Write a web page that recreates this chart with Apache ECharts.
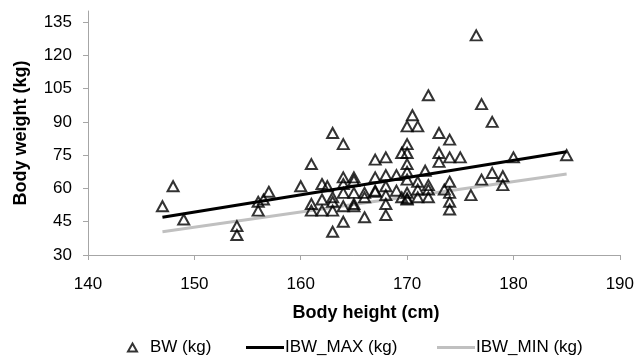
<!DOCTYPE html>
<html>
<head>
<meta charset="utf-8">
<script src="https://cdn.jsdelivr.net/npm/echarts@6/dist/echarts.min.js"></script>
<style>
  html, body { margin: 0; padding: 0; background: #fff; }
  #chart { width: 637px; height: 357px; }
</style>
</head>
<body>
<div id="chart"></div>
<script>
// body height (cm), body weight (kg) for each subject
const bwPoints = [
  [147, 52], [148, 61], [149, 46], [154, 43], [154, 39],
  [156, 50], [156, 54], [156.5, 55], [157, 58.5],
  [160, 61], [161, 71], [161, 53], [161, 50],
  [162, 62], [162, 55], [162, 50], [162.5, 61],
  [163, 85], [163, 56], [163, 54], [163, 50], [163, 40.5],
  [164, 80], [164, 65], [164, 62], [164, 58], [164, 52], [164, 45],
  [165, 65], [165, 63.5], [165, 58], [165, 53], [165, 52],
  [166, 58], [166, 56], [166, 47],
  [167, 73], [167, 65], [167, 59], [167, 58.5],
  [168, 74], [168, 66], [168, 61], [168, 57], [168, 53], [168, 48],
  [169, 66], [169, 59], [169.5, 76], [169.5, 56],
  [170.5, 93], [170, 88], [170, 80], [170, 76], [170, 71], [170, 67.5],
  [170, 64], [170, 58], [170, 55.5], [170, 55],
  [171, 88], [171, 63], [171, 59.5], [171, 56], [171.7, 68],
  [172, 102], [172, 61.5], [172, 59.5], [172, 56],
  [173, 85], [173, 76], [173, 72], [173.5, 59.5],
  [174, 82], [174, 74], [174, 63], [174, 58], [174, 54], [174, 50.5],
  [175, 74], [176, 57], [176.5, 129], [177, 98], [177, 64],
  [178, 90], [178, 67], [179, 65.5], [179, 61.5], [180, 74], [185, 75]
];
const ibwMax = [[147, 47], [185, 76.5]];
const ibwMin = [[147, 40.5], [185, 66.5]];
const yTicks = [30, 45, 60, 75, 90, 105, 120, 135];

const FONT = "'Liberation Sans', Arial, sans-serif";
const axisGray = "#a6a6a6";
const legendText = { fontFamily: FONT, fontSize: 17, color: "#000" };

const canvas = echarts.init(document.getElementById("chart"));
canvas.setOption({
  animation: false,
  textStyle: { fontFamily: FONT, color: "#000" },
  grid: { left: 88, right: 17, top: 11, bottom: 102, containLabel: false },
  xAxis: {
    type: "value",
    min: 140,
    max: 190,
    interval: 10,
    name: "Body height (cm)",
    nameLocation: "middle",
    nameGap: 49,
    nameTextStyle: { fontFamily: FONT, fontSize: 18, fontWeight: "bold", color: "#000", padding: [0, 0, 0, 24] },
    splitLine: { show: false },
    axisLine: { lineStyle: { color: axisGray, width: 1 } },
    axisTick: { show: true, length: 5, lineStyle: { color: axisGray } },
    axisLabel: { fontFamily: FONT, fontSize: 17, color: "#000", margin: 21 },
  },
  yAxis: {
    type: "value",
    min: 30,
    max: 140,
    name: "Body weight (kg)",
    nameLocation: "middle",
    nameGap: 58,
    nameTextStyle: { fontFamily: FONT, fontSize: 18, fontWeight: "bold", color: "#000" },
    splitLine: { show: false },
    axisLine: { show: true, lineStyle: { color: axisGray, width: 1 } },
    axisTick: { show: true, length: 5, lineStyle: { color: axisGray }, customValues: yTicks },
    axisLabel: { fontFamily: FONT, fontSize: 17, color: "#000", margin: 16, customValues: yTicks },
  },
  legend: [
    {
      data: ["BW (kg)"],
      left: 122,
      top: 334,
      itemWidth: 9,
      itemHeight: 8,
      textStyle: Object.assign({ padding: [0, 0, 0, 8] }, legendText),
    },
    {
      data: [{ name: "IBW_MAX (kg)", icon: "rect" }],
      left: 241,
      top: 334,
      itemWidth: 38,
      itemHeight: 3,
      textStyle: Object.assign({ padding: [0, 0, 0, -4] }, legendText),
    },
    {
      data: [{ name: "IBW_MIN (kg)", icon: "rect" }],
      left: 432,
      top: 334,
      itemWidth: 38,
      itemHeight: 3,
      textStyle: Object.assign({ padding: [0, 0, 0, -4] }, legendText),
    },
  ],
  series: [
    {
      name: "BW (kg)",
      type: "scatter",
      data: bwPoints,
      symbol: "triangle",
      symbolSize: [11, 10],
      z: 5,
      itemStyle: { color: "rgba(255,255,255,0)", borderColor: "#000", borderWidth: 2 },
    },
    {
      name: "IBW_MAX (kg)",
      type: "line",
      data: ibwMax,
      symbol: "none",
      z: 3,
      lineStyle: { color: "#000", width: 3 },
      itemStyle: { color: "#000" },
    },
    {
      name: "IBW_MIN (kg)",
      type: "line",
      data: ibwMin,
      symbol: "none",
      z: 3,
      lineStyle: { color: "#c0c0c0", width: 3 },
      itemStyle: { color: "#c0c0c0" },
    },
  ],
});
</script>
</body>
</html>
